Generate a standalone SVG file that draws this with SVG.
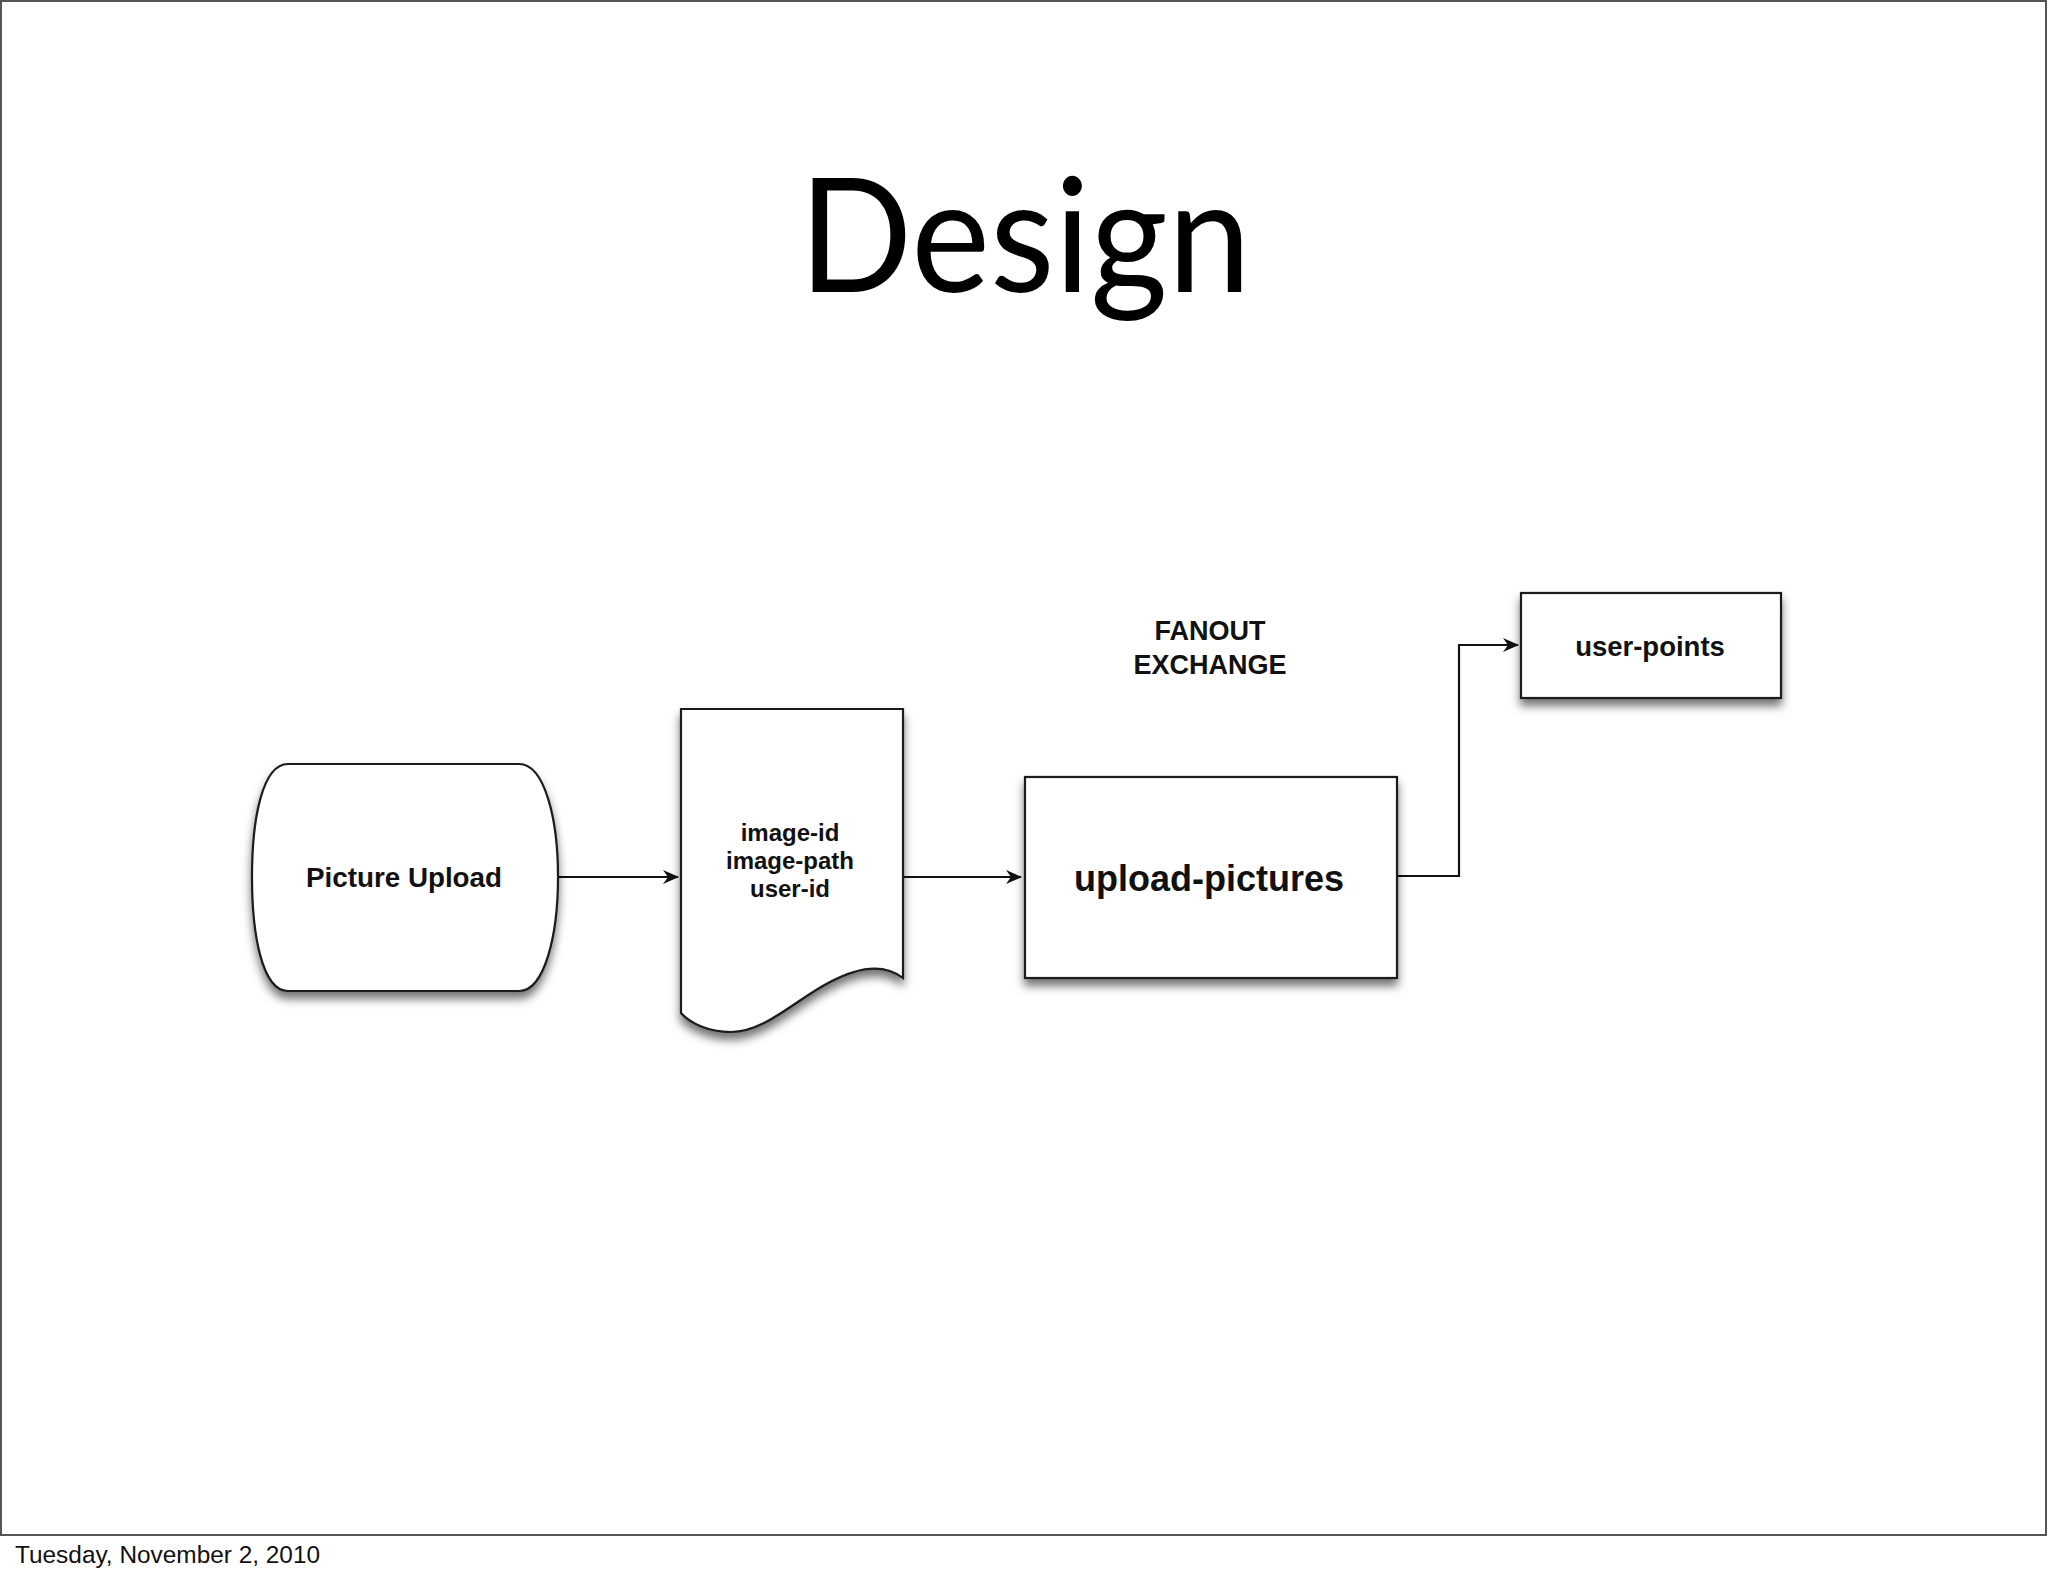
<svg xmlns="http://www.w3.org/2000/svg" width="2048" height="1576" viewBox="0 0 2048 1576">
<defs>
<style>
.node{fill:#fff;stroke:#1a1a1a;stroke-width:2.2;filter:url(#sh)}
.lbl{font-family:"Liberation Sans",Arial,sans-serif;font-weight:bold;fill:#111;text-anchor:middle}
.conn{fill:none;stroke:#111;stroke-width:2.2;marker-end:url(#ah)}
</style>
<filter id="sh" x="-20%" y="-20%" width="140%" height="150%">
<feDropShadow dx="0" dy="7" stdDeviation="5" flood-color="#000" flood-opacity="0.55"/>
</filter>
<marker id="ah" markerUnits="userSpaceOnUse" markerWidth="16" markerHeight="14" refX="15" refY="7" orient="auto">
<path d="M0,0 L16,7 L0,14 L5,7 Z" fill="#111"/>
</marker>
</defs>
<rect x="0" y="0" width="2048" height="1576" fill="#fff"/>
<rect x="1" y="1" width="2045" height="1534" fill="none" stroke="#555" stroke-width="2"/>
<text x="1025" y="292" font-family="Lato,'Open Sans',sans-serif" font-size="160" textLength="452" lengthAdjust="spacingAndGlyphs" text-anchor="middle" fill="#000">Design</text>
<text x="15" y="1563" font-family="'Liberation Sans',Arial,sans-serif" font-size="24.4" fill="#111">Tuesday, November 2, 2010</text>

<g id="connectors">
<path class="conn" d="M558,877 H678"/>
<path class="conn" d="M903,877 H1021"/>
<path class="conn" d="M1397,876 H1459 V645 H1518"/>
</g>

<g id="picture-upload">
<path class="node" d="M288,764 H519 C545,764 558,820 558,877 C558,934 545,991 519,991 H288 C262,991 252,934 252,877 C252,820 262,764 288,764 Z"/>
<text class="lbl" x="404" y="887" font-size="27" textLength="196" lengthAdjust="spacingAndGlyphs">Picture Upload</text>
</g>

<g id="message">
<path class="node" d="M681,709 H903 V978 C885,964 860,966 830,982 C795,1000 765,1032 731,1032 C708,1032 690,1023 681,1013 Z"/>
<text class="lbl" x="790" y="841" font-size="24">image-id</text>
<text class="lbl" x="790" y="869" font-size="24">image-path</text>
<text class="lbl" x="790" y="897" font-size="24">user-id</text>
</g>

<g id="fanout-exchange">
<text class="lbl" x="1210" y="640" font-size="27">FANOUT</text>
<text class="lbl" x="1210" y="674" font-size="27">EXCHANGE</text>
</g>

<g id="upload-pictures">
<rect class="node" x="1025" y="777" width="372" height="201"/>
<text class="lbl" x="1209" y="891" font-size="36">upload-pictures</text>
</g>

<g id="user-points">
<rect class="node" x="1521" y="593" width="260" height="105"/>
<text class="lbl" x="1650" y="656" font-size="27.5">user-points</text>
</g>
</svg>
